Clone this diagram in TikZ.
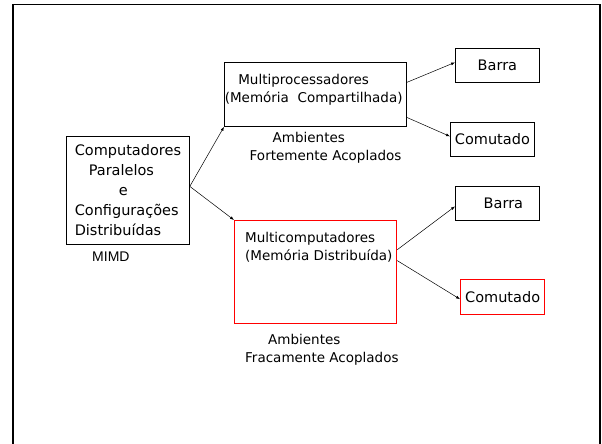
\documentclass[tikz,border=0pt]{standalone}
\usepackage{fontspec}
\setmainfont{DejaVu Sans}
\newfontfamily\mimdfont{Liberation Sans}
\usetikzlibrary{arrows.meta, positioning}

\begin{document}
\begin{tikzpicture}[x=1pt, y=-1pt,
    box/.style={draw=black, line width=0.8pt, anchor=north west, inner sep=0pt,
                font=\fontsize{14.5}{20}\selectfont},
    redbox/.style={box, draw=red, line width=1.3pt},
    txt/.style={anchor=north west, inner sep=0pt, align=left,
                font=\fontsize{13.5}{17.5}\selectfont},
    link/.style={-{Latex[length=4pt,width=3pt]}, line width=0.5pt}]
    \useasboundingbox (0,0) rectangle (602,444);

    % Slide frame (open at the bottom)
    \draw[line width=1.6pt] (13,446) -- (13,4.5) -- (600,4.5) -- (600,446);

    % Root box
    \node[box, minimum width=123pt, minimum height=108pt, align=left] (comp) at (66,136) {
        Computadores\\
        \hspace*{14pt}Paralelos\\
        \hspace*{44pt}e\\
        Configurações\\
        Distribuídas
    };
    \node[anchor=north west, inner sep=0pt, font=\mimdfont\fontsize{14}{16}\selectfont]
        (mimd) at (92,251.5) {MIMD};

    % Shared memory branch
    \node[box, minimum width=182pt, minimum height=64pt] (mp) at (224,62) {};
    \node[txt] (mptext) at (224.6,74.5) {\hspace*{13.5pt}Multiprocessadores\\(Memória\ \ Compartilhada)};
    \node[txt] (mplabel) at (249.5,132.5) {\hspace*{23pt}Ambientes\\Fortemente Acoplados};

    % Distributed memory branch
    \node[redbox, minimum width=162pt, minimum height=103pt] (mc) at (234,220) {};
    \node[txt] (mctext) at (245,232.5) {Multicomputadores\\(Memória Distribuída)};
    \node[txt] (mclabel) at (245,334.5) {\hspace*{23pt}Ambientes\\Fracamente Acoplados};

    % Interconnection boxes
    \node[box, minimum width=84pt, minimum height=34pt] (barra1) at (455,48) {Barra};
    \node[box, minimum width=84pt, minimum height=34pt] (comut1) at (450,122) {Comutado};
    \node[box, minimum width=84pt, minimum height=34pt] (barra2) at (455,186) {\hspace*{12pt}Barra};
    \node[redbox, minimum width=84pt, minimum height=35pt] (comut2) at (460,279) {Comutado};

    % Arrows
    \draw[link] ([yshift=4pt]comp.east) -- (mp.south west);
    \draw[link] ([yshift=4pt]comp.east) -- (mc.north west);
    \draw[link] ([yshift=12pt]mp.east) -- ([yshift=3pt]barra1.west);
    \draw[link] ([yshift=-23pt]mp.east) -- ([yshift=3pt]comut1.west);
    \draw[link] ([yshift=22.5pt]mc.east) -- ([yshift=-3pt]barra2.west);
    \draw[link] ([yshift=11.5pt]mc.east) -- ([yshift=-2pt]comut2.west);
\end{tikzpicture}
\end{document}
